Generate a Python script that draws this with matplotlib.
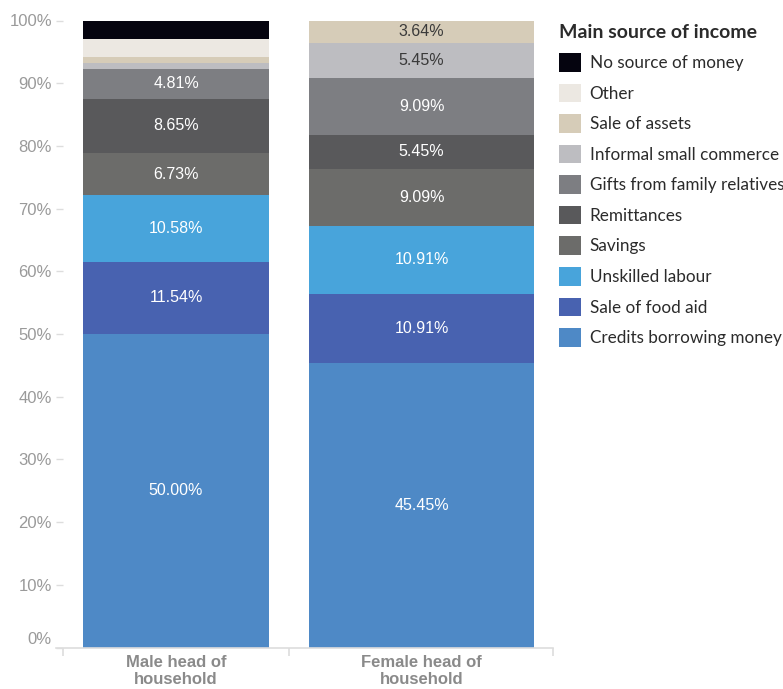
import matplotlib
matplotlib.use("Agg")
import matplotlib.pyplot as plt
from matplotlib.patches import Patch
import numpy as np

plt.rcParams['font.family'] = ['Liberation Sans', 'DejaVu Sans']

groups = ["Male head of\nhousehold", "Female head of\nhousehold"]

sources = ["Credits borrowing money", "Sale of food aid", "Unskilled labour",
           "Savings", "Remittances", "Gifts from family relatives",
           "Informal small commerce", "Sale of assets", "Other",
           "No source of money"]

male = [50.00, 11.54, 10.58, 6.73, 8.65, 4.81, 0.96, 0.96, 2.88, 2.88]
female = [45.45, 10.91, 10.91, 9.09, 5.45, 9.09, 5.45, 3.64, 0.0, 0.0]

colors = ["#4e89c6", "#4862b0", "#48a4db", "#6c6c6a", "#59595b",
          "#7d7e82", "#bdbdc1", "#d6ccb8", "#ece8e2", "#05040f"]
# segments light enough to need dark text
dark_text = ["Informal small commerce", "Sale of assets", "Other"]

# bar layout in pixel-like units along the x axis (band edges 0, 226, 490)
bar_left = [20, 246]
bar_width = [186, 225]

fig = plt.figure(figsize=(7.83, 6.89), dpi=100)
ax = fig.add_axes([63 / 783, 1 - 647.5 / 689, 490 / 783, 627 / 689])

values = np.array([male, female])
bottoms = np.zeros(2)
for j, src in enumerate(sources):
    for i in range(2):
        v = values[i, j]
        if v <= 0:
            continue
        ax.bar(bar_left[i], v, width=bar_width[i], bottom=bottoms[i],
               align='edge', color=colors[j], linewidth=0)
        if v > 3:
            tc = "#3a3a3a" if src in dark_text else "white"
            ax.text(bar_left[i] + bar_width[i] / 2, bottoms[i] + v / 2,
                    f"{v:.2f}%", ha='center', va='center', color=tc,
                    fontsize=11.5)
    bottoms += values[:, j]

ax.set_xlim(0, 490)
ax.set_ylim(0, 100)

for s in ['top', 'right', 'left']:
    ax.spines[s].set_visible(False)
ax.spines['bottom'].set_color("#dddddd")
ax.spines['bottom'].set_linewidth(1.2)
ax.spines['bottom'].set_bounds(-7, 490)

# y axis
yt = np.arange(0, 101, 10)
ax.set_yticks(yt)
ax.set_yticklabels([f"{t}%" for t in yt])
ax.tick_params(axis='y', length=5, width=1, color="#dddddd",
               labelcolor="#9a9a9a", labelsize=12, pad=3)
ax.get_yticklabels()[0].set_verticalalignment('bottom')

# x axis: ticks at band edges, labels under the bars
ax.set_xticks([0, 226, 490])
ax.set_xticklabels([])
ax.tick_params(axis='x', length=6, width=1.2, color="#dddddd")
for i, g in enumerate(groups):
    ax.text(bar_left[i] + bar_width[i] / 2, -1.2, g, ha='center', va='top',
            fontsize=12, fontweight='bold', color="#8a8a8a",
            linespacing=1.2)

handles = [Patch(facecolor=colors[j], edgecolor='none', label=sources[j])
           for j in range(len(sources))][::-1]
leg = fig.legend(handles=handles, loc='upper left',
                 bbox_to_anchor=(559 / 783, 1 - 24 / 689),
                 frameon=False, title="Main source of income",
                 title_fontproperties={'family': 'Lato', 'weight': 'bold',
                                       'size': 14},
                 prop={'family': 'Lato', 'size': 12.3},
                 handlelength=1.3, handleheight=1.3, labelspacing=0.7,
                 handletextpad=0.5, borderpad=0, borderaxespad=0,
                 alignment='left')
for t in leg.get_texts():
    t.set_color("#2b2b2b")
leg.get_title().set_color("#2b2b2b")

fig.savefig("out.png", dpi=100)
